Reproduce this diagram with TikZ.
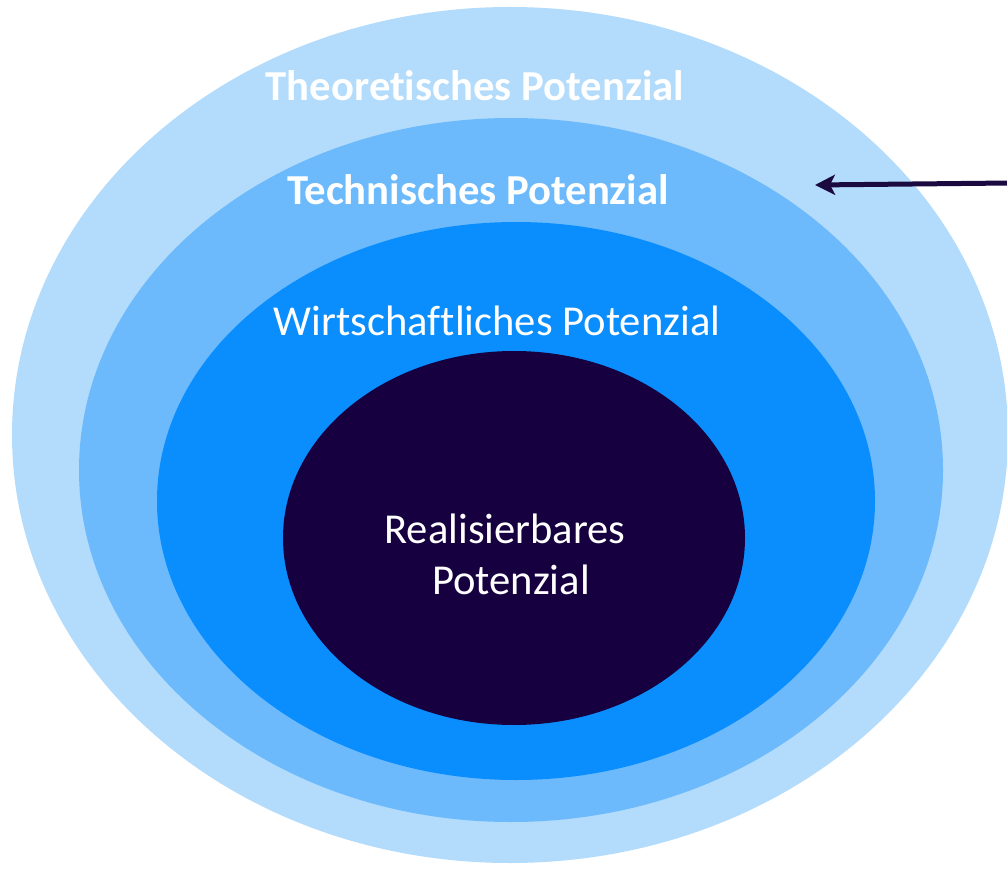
\documentclass[tikz,border=0pt]{standalone}
\usepackage{fontspec}
\setmainfont[Ligatures=NoCommon]{Carlito}
\usetikzlibrary{arrows.meta}
\definecolor{theo}{HTML}{B3DBFB}
\definecolor{tech}{HTML}{6CBAFC}
\definecolor{wirt}{HTML}{0A8EFE}
\definecolor{real}{HTML}{160040}
\definecolor{arrowc}{HTML}{1A0A40}
\tikzset{
  lbl/.style={text=white, inner sep=0pt, anchor=base, align=center},
  boldlbl/.style={lbl, font=\fontsize{42.7}{48}\selectfont\bfseries},
  reglbl/.style={lbl, font=\fontsize{42.6}{50}\selectfont},
  pointer/.style={draw=arrowc, line width=5pt, -{Stealth[length=20pt, width=20pt, inset=5pt]}}
}
\begin{document}
\begin{tikzpicture}[x=1pt, y=-1pt]
\useasboundingbox (0,0) rectangle (1007,869);
\fill[white] (0,0) rectangle (1007,869);
\fill[theo] (510,435) ellipse [x radius=498, y radius=428];
\fill[tech] (511,470) ellipse [x radius=432, y radius=352];
\fill[wirt] (516,501) ellipse [x radius=359, y radius=279];
\fill[real] (514,538) ellipse [x radius=231, y radius=187];
\node[boldlbl] (theolbl) at (475,101) {Theoretisches Potenzial};
\node[boldlbl] (techlbl) at (478,205) {Technisches Potenzial};
\node[reglbl] (wirtlbl) at (497,335) {Wirtschaftliches Potenzial};
\node[reglbl] (reallbl1) at (505,543) {Realisierbares};
\node[reglbl] (reallbl2) at (511,594) {Potenzial};
\coordinate (arrowstart) at (1010,183);
\coordinate (arrowtip) at (815,185);
\draw[pointer] (arrowstart) -- (arrowtip);
\end{tikzpicture}
\end{document}
